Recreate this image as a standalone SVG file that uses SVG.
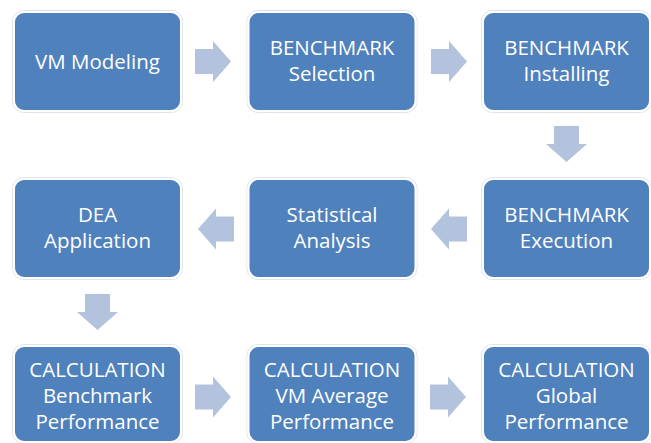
<svg xmlns="http://www.w3.org/2000/svg" width="651" height="443" viewBox="0 0 651 443">
<style>
.halo{fill:none;stroke:#dfe3ea;stroke-width:1}
.box{fill:#4F81BD;stroke:#ffffff;stroke-width:2}
.arr{fill:#B3C3DD}
text{font-family:"Open Sans","Liberation Sans",sans-serif;font-size:20.5px;fill:#ffffff;text-anchor:middle}
</style>
<defs>
<path id="ar" class="arr" d="M0,-12.5 H18 V-20.5 L36,0 L18,20.5 V12.5 H0 Z"/>
</defs>
<rect width="651" height="443" fill="#ffffff"/>
<g id="connectors">
<use href="#ar" transform="translate(195,61.5)"/>
<use href="#ar" transform="translate(431,61.5)"/>
<use href="#ar" transform="translate(566.5,126) rotate(90)"/>
<use href="#ar" transform="translate(467,229) rotate(180)"/>
<use href="#ar" transform="translate(234,229) rotate(180)"/>
<use href="#ar" transform="translate(97.5,294) rotate(90)"/>
<use href="#ar" transform="translate(195,397)"/>
<use href="#ar" transform="translate(430,397)"/>
</g>
<g id="n1"><rect class="halo" x="12.5" y="10.5" width="170" height="102" rx="11"/><rect class="box" x="14" y="12" width="167" height="99" rx="10"/><text x="97.5" y="68.5">VM Modeling</text></g>
<g id="n2"><rect class="halo" x="247" y="10.5" width="170" height="102" rx="11"/><rect class="box" x="248.5" y="12" width="167" height="99" rx="10"/><text x="332" y="55">BENCHMARK</text><text x="332" y="81">Selection</text></g>
<g id="n3"><rect class="halo" x="481.5" y="10.5" width="170" height="102" rx="11"/><rect class="box" x="483" y="12" width="167" height="99" rx="10"/><text x="566.5" y="55">BENCHMARK</text><text x="566.5" y="81">Installing</text></g>
<g id="n4"><rect class="halo" x="481.5" y="177.5" width="170" height="102" rx="11"/><rect class="box" x="483" y="179" width="167" height="99" rx="10"/><text x="566.5" y="222">BENCHMARK</text><text x="566.5" y="248">Execution</text></g>
<g id="n5"><rect class="halo" x="247" y="177.5" width="170" height="102" rx="11"/><rect class="box" x="248.5" y="179" width="167" height="99" rx="10"/><text x="332" y="222">Statistical</text><text x="332" y="248">Analysis</text></g>
<g id="n6"><rect class="halo" x="12.5" y="177.5" width="170" height="102" rx="11"/><rect class="box" x="14" y="179" width="167" height="99" rx="10"/><text x="97.5" y="222">DEA</text><text x="97.5" y="248">Application</text></g>
<g id="n7"><rect class="halo" x="12.5" y="344.5" width="170" height="99" rx="11"/><rect class="box" x="14" y="346" width="167" height="96" rx="10"/><text x="97.5" y="377">CALCULATION</text><text x="97.5" y="403">Benchmark</text><text x="97.5" y="429">Performance</text></g>
<g id="n8"><rect class="halo" x="247" y="344.5" width="170" height="99" rx="11"/><rect class="box" x="248.5" y="346" width="167" height="96" rx="10"/><text x="332" y="377">CALCULATION</text><text x="332" y="403">VM Average</text><text x="332" y="429">Performance</text></g>
<g id="n9"><rect class="halo" x="481.5" y="344.5" width="170" height="99" rx="11"/><rect class="box" x="483" y="346" width="167" height="96" rx="10"/><text x="566.5" y="377">CALCULATION</text><text x="566.5" y="403">Global</text><text x="566.5" y="429">Performance</text></g>
</svg>
